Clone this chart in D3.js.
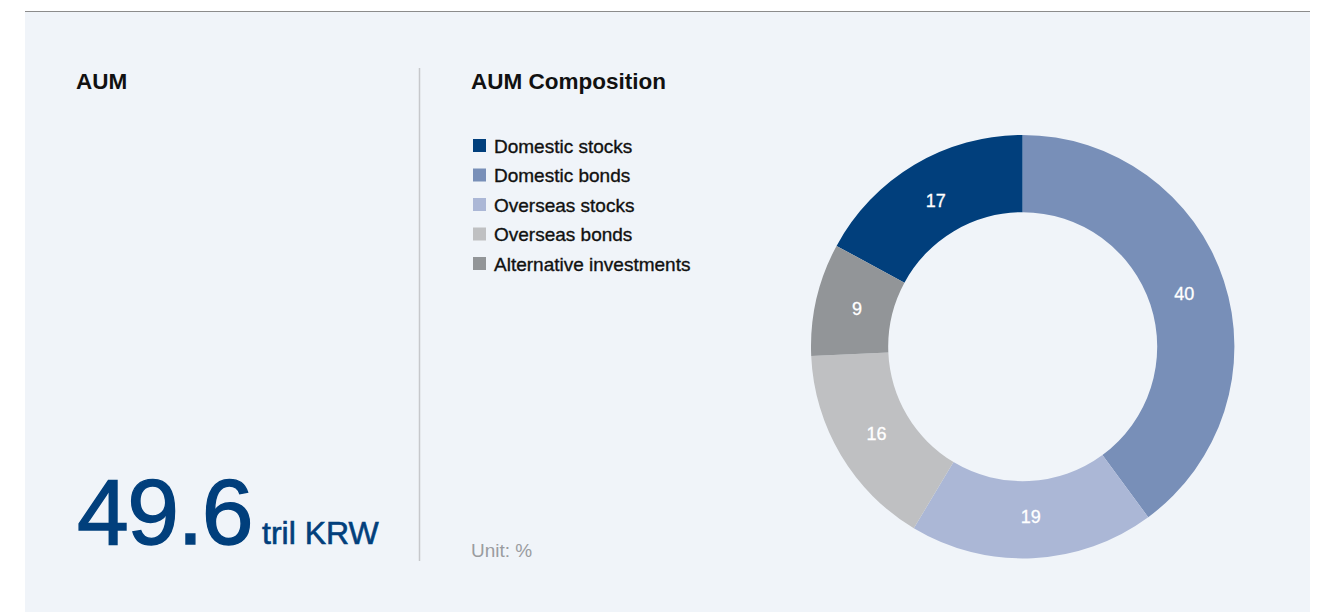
<!DOCTYPE html>
<html>
<head>
<meta charset="utf-8">
<script src="https://cdn.jsdelivr.net/npm/d3@7"></script>
<style>
  body { margin: 0; background: #fff; }
  svg { display: block; font-family: "Liberation Sans", Arial, Helvetica, sans-serif; }
</style>
</head>
<body>
<svg width="1326" height="612"></svg>
<script>
// chart data (shares, labels are rounded)
var categories = ["Domestic stocks", "Domestic bonds", "Overseas stocks", "Overseas bonds", "Alternative investments"];
var shares = [17.1, 39.9, 18.7, 15.7, 8.6];
var colors = ["#013f7c", "#788fb8", "#abb7d6", "#bfc0c2", "#929598"];
var aumValue = "49.6";
var aumUnit = "tril KRW";

var data = categories.map(function(c, i) {
  return { name: c, value: shares[i], color: colors[i] };
});

var svg = d3.select("svg");

// panel background + top rule
svg.append("rect").attr("x", 25).attr("y", 11).attr("width", 1285).attr("height", 601).attr("fill", "#f0f4f9");
svg.append("line").attr("x1", 25).attr("x2", 1310).attr("y1", 11.5).attr("y2", 11.5)
  .attr("stroke", "#8c8c8c").attr("stroke-width", 1);

// left block
svg.append("text").attr("x", 76).attr("y", 89).attr("font-size", 22.5).attr("font-weight", "bold")
  .attr("fill", "#111").text("AUM");

var big = svg.append("text").attr("x", 77).attr("y", 544).attr("fill", "#013f7c")
  .attr("stroke", "#013f7c");
big.append("tspan").attr("font-size", 93).attr("letter-spacing", -1.5).attr("stroke-width", 1.4).text(aumValue);
big.append("tspan").attr("dx", 10).attr("font-size", 32).attr("stroke-width", 0.6).text(aumUnit);

// divider
svg.append("line").attr("x1", 419.5).attr("x2", 419.5).attr("y1", 68).attr("y2", 561)
  .attr("stroke", "#c6c8cc").attr("stroke-width", 1.5);

// right block
svg.append("text").attr("x", 471).attr("y", 89).attr("font-size", 22.5).attr("font-weight", "bold")
  .attr("fill", "#111").text("AUM Composition");

var legend = svg.selectAll("g.legend")
  .data(data)
  .enter()
  .append("g")
  .attr("class", "legend")
  .attr("transform", function(d, i) {
    return "translate(473," + (139 + i * 29.5) + ")";
  });

legend.append("rect").attr("width", 13).attr("height", 13).attr("fill", function(d) { return d.color; });
legend.append("text").attr("x", 21).attr("y", 13.5).attr("font-size", 19).attr("fill", "#111")
  .attr("stroke", "#111").attr("stroke-width", 0.35)
  .text(function(d) { return d.name; });

svg.append("text").attr("x", 471).attr("y", 557).attr("font-size", 19).attr("fill", "#9a9ca0").text("Unit: %");

// donut
var cx = 1022.7, cy = 346.7, outerR = 211.7, innerR = 134.5;
var total = d3.sum(shares);
var startOffset = -2 * Math.PI * shares[0] / total;

var pie = d3.pie()
  .sort(null)
  .value(function(d) { return d.value; })
  .startAngle(startOffset)
  .endAngle(startOffset + 2 * Math.PI);

var arc = d3.arc().innerRadius(innerR).outerRadius(outerR);
var labelArc = d3.arc().innerRadius(innerR - 3).outerRadius(outerR - 3);

var g = svg.append("g").attr("transform", "translate(" + cx + "," + cy + ")");
var slices = g.selectAll("g.slice").data(pie(data)).enter().append("g").attr("class", "slice");

slices.append("path")
  .attr("d", arc)
  .attr("fill", function(d) { return d.data.color; });

slices.append("text")
  .attr("transform", function(d) { return "translate(" + labelArc.centroid(d) + ")"; })
  .attr("text-anchor", "middle")
  .attr("dy", "0.33em")
  .attr("font-size", 18)
  .attr("fill", "#fff")
  .attr("stroke", "#fff").attr("stroke-width", 0.3)
  .text(function(d) { return Math.round(d.data.value); });
</script>
</body>
</html>
